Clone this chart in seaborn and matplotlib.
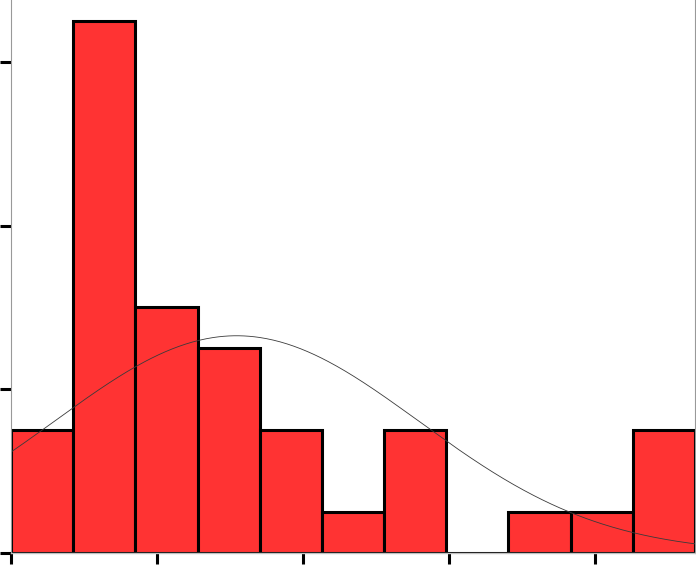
import numpy as np
import pandas as pd
import matplotlib
matplotlib.use("Agg")
import matplotlib.pyplot as plt
import seaborn as sns

# Histogram data
bin_width = 8.523
n_bins = 11
counts = [3, 13, 6, 5, 3, 1, 3, 0, 1, 1, 3]
x_ticks = [0, 20, 40, 60, 80]
y_ticks = [0, 4, 8, 12]

edges = np.arange(n_bins + 1) * bin_width
centers = (edges[:-1] + edges[1:]) / 2
df = pd.DataFrame({"value": centers, "count": counts})

sns.set_style("white")
fig = plt.figure(figsize=(6.96, 5.66), dpi=100)
ax = fig.add_axes([11 / 696, 13 / 566, 684 / 696, 553 / 566])

sns.histplot(data=df, x="value", weights="count", bins=n_bins,
             binrange=(float(edges[0]), float(edges[-1])), ax=ax,
             color="#FF3333", edgecolor="black", linewidth=2.2, alpha=1.0)

# Normal curve fitted to the binned data
n = float(np.sum(counts))
mean = np.sum(centers * np.array(counts)) / n
sd = np.sqrt(np.sum(np.array(counts) * (centers - mean) ** 2) / (n - 1))
xs = np.linspace(edges[0], edges[-1], 400)
ys = n * bin_width * np.exp(-0.5 * ((xs - mean) / sd) ** 2) / (sd * np.sqrt(2 * np.pi))
sns.lineplot(x=xs, y=ys, ax=ax, color="#3a3a3a", linewidth=0.6)

ax.set_xlim(edges[0], edges[-1])
ax.set_ylim(0, 553 / 40.92)
ax.set_xticks(x_ticks)
ax.set_yticks(y_ticks)
ax.set_xticklabels([])
ax.set_yticklabels([])
ax.set_xlabel("")
ax.set_ylabel("")
ax.tick_params(axis="both", direction="out", length=8, width=2.2, color="black",
               bottom=True, left=True)

ax.spines["top"].set_visible(False)
ax.spines["left"].set_color("#999999")
ax.spines["left"].set_linewidth(0.8)
ax.spines["right"].set_color("#999999")
ax.spines["right"].set_linewidth(0.8)
ax.spines["bottom"].set_color("#c0c0c0")
ax.spines["bottom"].set_linewidth(1.0)

fig.savefig("out.png", dpi=100)
